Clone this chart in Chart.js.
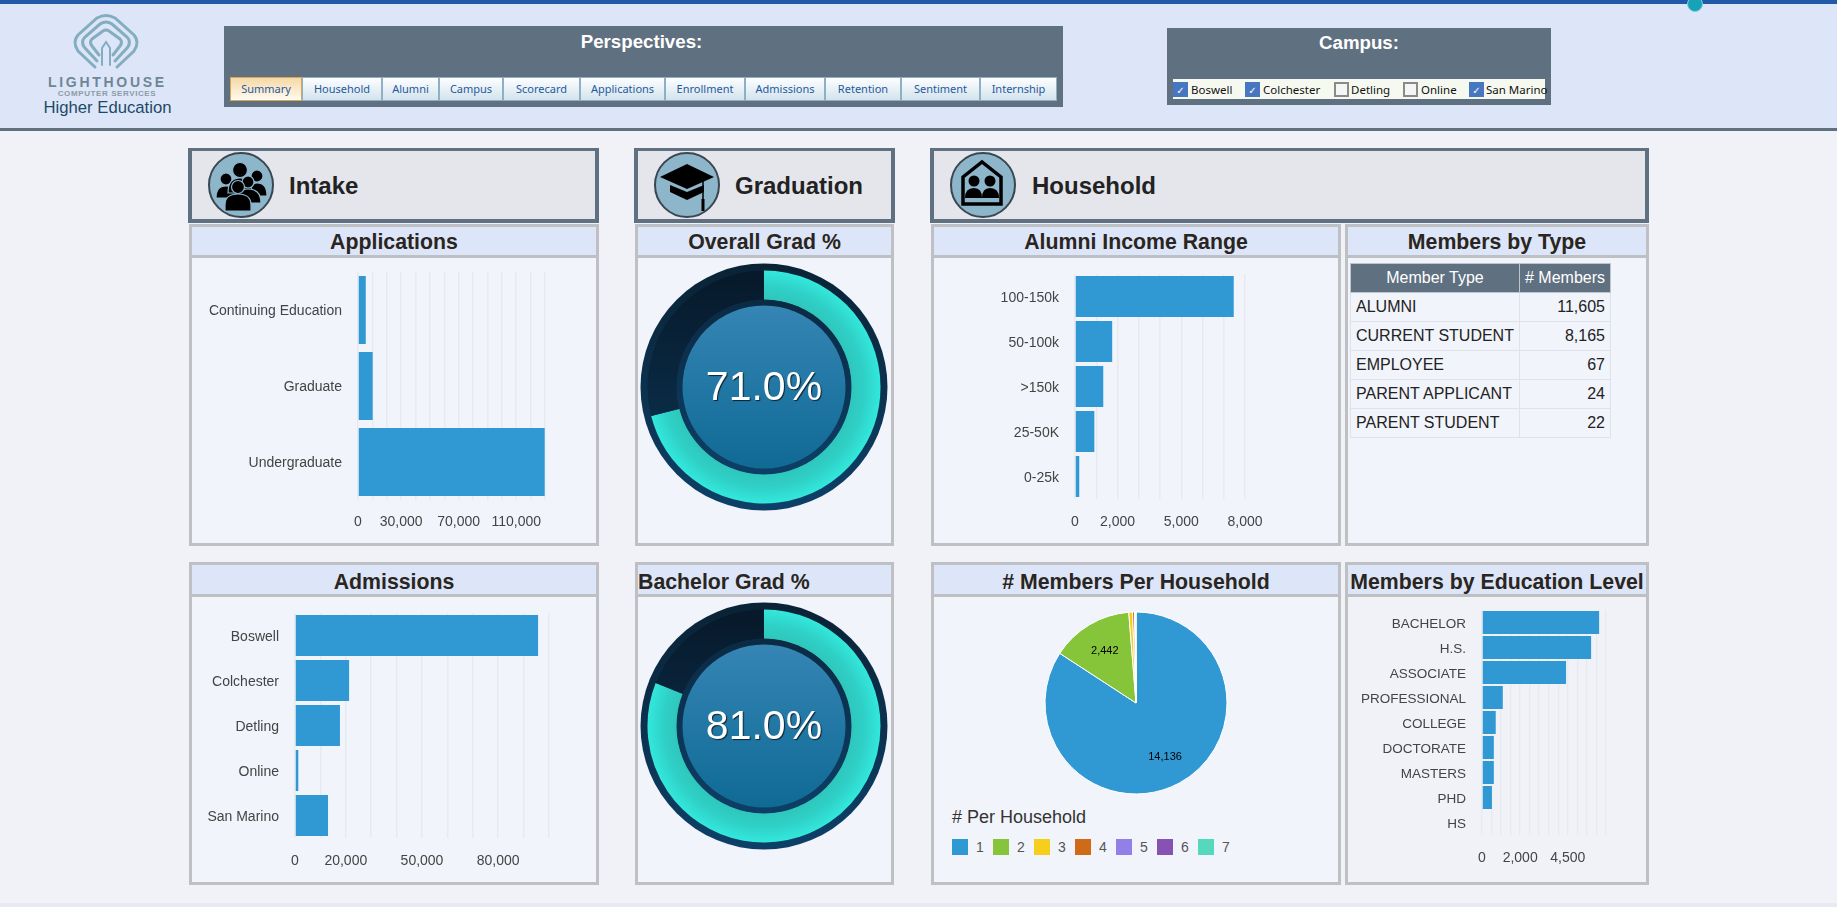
<!DOCTYPE html>
<html>
<head>
<meta charset="utf-8">
<title>Higher Education Summary</title>
<script src="https://cdn.jsdelivr.net/npm/chart.js"></script>
<style>
html, body { margin: 0; padding: 0; width: 1837px; height: 907px; overflow: hidden; background: #f0f2f8; font-family: "Liberation Sans", Arial, sans-serif; }
.abs, .panel, .title, .section, canvas { position: absolute; box-sizing: border-box; }
#topbar { left: 0; top: 0; width: 1837px; height: 4px; background: #2059a8; }
#head { left: 0; top: 4px; width: 1837px; height: 127px; background: #dde6f8; border-bottom: 3px solid #5f7080; }
#foot { left: 0; top: 903px; width: 1837px; height: 4px; background: #e7eaf0; }
#dot { left: 1687px; top: -4px; width: 16px; height: 16px; border-radius: 50%; background: #17a2b8; border: 1px solid #7fd0dc; }
.greybox { background: #5f7080; color: #fff; font-weight: bold; font-size: 18.7px; text-align: center; }
.tab { top: 77px; height: 24px; box-sizing: border-box; font: 11px/22px "Noto Sans", sans-serif; color: #1f5a9e; text-align: center; background: linear-gradient(#fdfeff, #d3e3ec); border: 1px solid #8fb0c4; }
.tab.on { background: linear-gradient(#f6d9a5, #fffaf0); border-color: #d5a858; }
.box { top: 82px; width: 15px; height: 15px; box-sizing: border-box; background: #f5f5f5; border: 2px solid #8a8a8a; color: #fff; font: 10px/13px "DejaVu Sans", sans-serif; text-align: center; }
.box.on { background: #4677c0; border-color: #4677c0; }
.lbl { top: 81px; font: 11.5px/18px "Noto Sans", sans-serif; color: #111; white-space: nowrap; }
.section { top: 148px; height: 75px; background: #e4e6ec; border: 4px solid #5f7080; border-top-width: 3px; border-bottom-width: 4px; }
.sectitle { top: 172px; font-weight: bold; font-size: 24px; line-height: 28px; color: #222; }
.panel { background: #f1f4fb; border: 3px solid #bfc0c4; }
.title { left: 0; right: 0; top: 0; height: 31px; line-height: 31px; background: #dde6f8; border-bottom: 3px solid #bfc0c4; font-weight: bold; font-size: 21.3px; color: #2a2520; text-align: center; white-space: nowrap; }
.title.low { height: 32px; line-height: 34px; }
table { border-collapse: collapse; table-layout: fixed; font-size: 16px; color: #222; }
th { background: #5f7080; color: #fff; font-weight: normal; height: 29px; padding: 0 5px; border: 1px solid #c0c4cc; box-sizing: border-box; white-space: nowrap; }
td { height: 29px; padding: 0 5px; border: 1px solid #dfe2e8; box-sizing: border-box; white-space: nowrap; }
.leg { font-size: 14px; color: #555; line-height: 16px; }
</style>
</head>
<body>
<div class="abs" id="topbar"></div>
<div class="abs" id="head"></div>
<div class="abs" id="dot"></div>
<div class="abs" id="foot"></div>

<svg class="abs" style="left:0;top:1px" width="200" height="80" fill="none" stroke="#84adbf" stroke-width="3" stroke-linecap="round">
  <path d="M95,66 L78,50 Q72,41 78,34 L97,17 Q106,12 115,17 L134,34 Q140,41 134,50 L117,66"/>
  <path d="M97,60 L85,47 Q80,41 85,36 L100,23 Q106,19 112,23 L127,36 Q132,41 127,47 L115,60"/>
  <path d="M99,54 L92,45 Q89,41 92,38 L103,30 Q106,28 109,30 L120,38 Q123,41 120,45 L113,54"/>
  <path d="M102,64 L102,47 L106,41 L110,47 L110,64" stroke-width="2"/>
</svg>
<div class="abs" style="left:48px;top:74px;width:118px;text-align:center;font-size:14px;line-height:16px;font-weight:bold;letter-spacing:2.7px;color:#6f8794;white-space:nowrap">LIGHTHOUSE</div>
<div class="abs" style="left:50px;top:89px;width:114px;text-align:center;font-size:8px;line-height:10px;font-weight:bold;letter-spacing:0.6px;color:#8a9ca6;white-space:nowrap">COMPUTER SERVICES</div>
<div class="abs" style="left:30px;top:98px;width:155px;text-align:center;font-size:16.7px;line-height:20px;color:#1c4a68;white-space:nowrap">Higher Education</div>

<div class="abs greybox" style="left:224px;top:26px;width:839px;height:81px;line-height:31px;padding-right:4px">Perspectives:</div>
<div id="tabs"></div>
<div class="abs greybox" style="left:1167px;top:28px;width:384px;height:77px;line-height:30px">Campus:</div>
<div class="abs" style="left:1173px;top:79px;width:372px;height:20px;background:#f6f9f0"></div>
<div id="campus"></div>

<div class="section" style="left:188px;width:411px"></div>
<div class="section" style="left:634px;width:261px"></div>
<div class="section" style="left:930px;width:719px"></div>

<svg class="abs" style="left:207px;top:151px" width="68" height="68" viewBox="0 0 68 68">
  <circle cx="34" cy="34" r="32" fill="#8db6cb" stroke="#3a4650" stroke-width="2"/>
  <g fill="#000" stroke="#8db6cb" stroke-width="1.2">
    <circle cx="19" cy="28" r="6"/><path d="M9,47 Q9,35 19,35 Q29,35 29,47 Z"/>
    <circle cx="50" cy="25" r="6"/><path d="M41,45 Q41,32 50,32 Q60,32 60,45 Z"/>
    <circle cx="33" cy="19" r="7.5"/><path d="M21,42 Q21,27 33,27 Q45,27 45,42 Z"/>
    <circle cx="41" cy="31" r="6"/><path d="M30,52 Q30,38 41,38 Q54,38 54,52 Z"/>
    <circle cx="31" cy="36" r="6.5"/><path d="M18,60 L18,54 Q18,43 31,43 Q44,43 44,54 L44,60 Z"/>
  </g>
</svg>
<svg class="abs" style="left:653px;top:151px" width="68" height="68" viewBox="0 0 68 68">
  <circle cx="34" cy="34" r="32" fill="#8db6cb" stroke="#3a4650" stroke-width="2"/>
  <path d="M7,26 L34,13 L61,26 L34,38 Z" fill="#000"/>
  <path d="M17,34 L34,41 L51,34 L51,41 L34,49 L17,41 Z" fill="#000"/>
  <path d="M50,29 L50,50" stroke="#000" stroke-width="1.5"/>
  <rect x="48.5" y="48" width="3" height="12" fill="#000"/>
</svg>
<svg class="abs" style="left:949px;top:151px" width="68" height="68" viewBox="0 0 68 68">
  <circle cx="34" cy="34" r="32" fill="#8db6cb" stroke="#3a4650" stroke-width="2"/>
  <path d="M14,53 L14,26 L33,11 L52,26 L52,53 Z" fill="none" stroke="#000" stroke-width="3.5"/>
  <g fill="#000">
    <circle cx="25" cy="30" r="5.5"/><path d="M16,47 Q16,37 25,37 Q33,37 33,47 Z"/>
    <circle cx="41" cy="30" r="5.5"/><path d="M33,47 Q33,37 41,37 Q50,37 50,47 Z"/>
  </g>
</svg>
<div class="abs sectitle" style="left:289px">Intake</div>
<div class="abs sectitle" style="left:735px">Graduation</div>
<div class="abs sectitle" style="left:1032px">Household</div>

<div class="panel" style="left:189px;top:224px;width:410px;height:322px"><div class="title">Applications</div></div>
<div class="panel" style="left:635px;top:224px;width:259px;height:322px"><div class="title">Overall Grad %</div></div>
<div class="panel" style="left:931px;top:224px;width:410px;height:322px"><div class="title">Alumni Income Range</div></div>
<div class="panel" style="left:1345px;top:224px;width:304px;height:322px"><div class="title">Members by Type</div></div>
<div class="panel" style="left:189px;top:562px;width:410px;height:323px"><div class="title low">Admissions</div></div>
<div class="panel" style="left:635px;top:562px;width:259px;height:323px"><div class="title low" style="text-align:left;padding-left:0">Bachelor Grad %</div></div>
<div class="panel" style="left:931px;top:562px;width:410px;height:323px"><div class="title low"># Members Per Household</div></div>
<div class="panel" style="left:1345px;top:562px;width:304px;height:323px;background:#f0f2f8"><div class="title low">Members by Education Level</div></div>

<canvas id="appChart" style="left:192px;top:258px" width="404" height="285"></canvas>
<canvas id="admChart" style="left:192px;top:597px" width="404" height="285"></canvas>
<canvas id="incChart" style="left:934px;top:258px" width="404" height="285"></canvas>
<canvas id="eduChart" style="left:1348px;top:597px" width="298" height="285"></canvas>
<canvas id="overallGauge" style="left:634px;top:257px" width="260" height="260"></canvas>
<canvas id="bachelorGauge" style="left:634px;top:596px" width="260" height="260"></canvas>
<canvas id="hhPie" style="left:1036px;top:603px" width="200" height="200"></canvas>

<table class="abs" id="memberTable" style="left:1350px;top:263px;width:261px"></table>
<div class="abs" style="left:952px;top:806px;font-size:18px;line-height:22px;color:#333">
# Per Household</div>
<div id="hhLegend"></div>

<script>
(function() {
'use strict';

const perspectives = ['Summary', 'Household', 'Alumni', 'Campus', 'Scorecard', 'Applications', 'Enrollment', 'Admissions', 'Retention', 'Sentiment', 'Internship'];
const campuses = ['Boswell', 'Colchester', 'Detling', 'Online', 'San Marino'];
const campusOn = [true, true, false, false, true];

const appCats = ['Continuing Education', 'Graduate', 'Undergraduate'];
const appVals = [5400, 10200, 129800];
const appTicks = [0, 30000, 70000, 110000];

const admCats = ['Boswell', 'Colchester', 'Detling', 'Online', 'San Marino'];
const admVals = [95700, 21300, 17700, 1300, 13000];
const admTicks = [0, 20000, 50000, 80000];

const incCats = ['100-150k', '50-100k', '>150k', '25-50K', '0-25k'];
const incVals = [7470, 1750, 1330, 910, 200];
const incTicks = [0, 2000, 5000, 8000];

const eduCats = ['BACHELOR', 'H.S.', 'ASSOCIATE', 'PROFESSIONAL', 'COLLEGE', 'DOCTORATE', 'MASTERS', 'PHD', 'HS'];
const eduVals = [6140, 5720, 4405, 1090, 720, 620, 620, 520, 0];
const eduTicks = [0, 2000, 4500];

const hhCats = ['1', '2', '3', '4', '5', '6', '7'];
const hhVals = [14136, 2442, 110, 60, 25, 12, 6];
const hhColors = ['#3099d4', '#86c439', '#f5cf1c', '#cf6a17', '#9280e8', '#8653b5', '#55d8bd'];

const overallGrad = 71.0;
const bachelorGrad = 81.0;

const memberTypes = ['ALUMNI', 'CURRENT STUDENT', 'EMPLOYEE', 'PARENT APPLICANT', 'PARENT STUDENT'];
const memberCounts = [11605, 8165, 67, 24, 22];

const BAR = '#3099d4';
const GRID = '#e7ebf0';
const FONT = '"Liberation Sans", Arial, sans-serif';

Chart.defaults.font.family = FONT;
Chart.defaults.font.size = 14;
Chart.defaults.color = '#444';
Chart.defaults.animation = false;
Chart.defaults.responsive = false;

function add(parent, cls, css, txt) {
  const d = document.createElement('div');
  d.className = cls;
  d.style.cssText = css;
  if (txt) d.textContent = txt;
  parent.appendChild(d);
  return d;
}

// top strip: tabs and campus filter
const tabEdges = [230, 302, 382, 439, 503, 580, 665, 745, 825, 901, 980, 1057];
const tabs = document.getElementById('tabs');
perspectives.forEach((p, i) => {
  add(tabs, 'abs tab' + (i === 0 ? ' on' : ''),
      'left:' + tabEdges[i] + 'px;width:' + (tabEdges[i + 1] - tabEdges[i]) + 'px', p);
});

const boxX = [1173, 1245, 1334, 1403, 1469];
const labX = [1191, 1263, 1351, 1421, 1486];
const camp = document.getElementById('campus');
campuses.forEach((c, i) => {
  add(camp, 'abs box' + (campusOn[i] ? ' on' : ''), 'left:' + boxX[i] + 'px', campusOn[i] ? '\u2713' : '');
  add(camp, 'abs lbl', 'left:' + labX[i] + 'px', c);
});

// members table
const tb = document.getElementById('memberTable');
let rows = '<tr><th style="width:169px">Member Type</th><th># Members</th></tr>';
memberTypes.forEach((t, i) => {
  rows += '<tr><td>' + t + '</td><td style="text-align:right">' + memberCounts[i].toLocaleString('en-US') + '</td></tr>';
});
tb.innerHTML = rows;

// horizontal bars, plot area pinned inside the canvas
function hbar(id, cats, vals, ticks, step, max, thick, box) {
  const canvas = document.getElementById(id);
  return new Chart(canvas.getContext('2d'), {
    type: 'bar',
    data: {
      labels: cats,
      datasets: [{data: vals, backgroundColor: BAR, barPercentage: thick, categoryPercentage: 1}]
    },
    options: {
      indexAxis: 'y',
      layout: {padding: {left: 0, top: box.top, right: canvas.width - box.right, bottom: 0}},
      plugins: {legend: {display: false}, tooltip: {enabled: false}},
      scales: {
        x: {
          min: 0,
          max: max,
          grid: {color: GRID, drawTicks: false, lineWidth: 1.5},
          border: {display: false},
          afterFit: s => {
            s.height = canvas.height - box.bottom;
            s.paddingLeft = 0;
            s.paddingRight = 0;
          },
          ticks: {
            stepSize: step,
            autoSkip: false,
            maxRotation: 0,
            padding: box.tickPad,
            callback: v => ticks.includes(v) ? v.toLocaleString('en-US') : ''
          }
        },
        y: {
          grid: {display: false},
          border: {display: false},
          afterFit: s => {
            s.width = box.left;
            s.paddingTop = 0;
            s.paddingBottom = 0;
          },
          ticks: {padding: 8, autoSkip: false, labelOffset: 1.5, font: {size: box.catSize || 14}}
        }
      }
    }
  });
}

hbar('appChart', appCats, appVals, appTicks, 10000, 130000, 0.895, {left: 166, right: 353, top: 14, bottom: 242, tickPad: 14});
hbar('admChart', admCats, admVals, admTicks, 10000, 100000, 0.911, {left: 103, right: 357, top: 16, bottom: 241, tickPad: 15});
hbar('incChart', incCats, incVals, incTicks, 1000, 8000, 0.911, {left: 141, right: 311, top: 16, bottom: 241, tickPad: 15});
hbar('eduChart', eduCats, eduVals, eduTicks, 500, 6500, 0.92, {left: 134, right: 258, top: 13, bottom: 238, tickPad: 15, catSize: 13.5});

// gauges
const ringPlugin = {
  id: 'ring',
  beforeDatasetsDraw(chart) {
    const c = chart.ctx, a = chart.chartArea;
    const cx = (a.left + a.right) / 2, cy = (a.top + a.bottom) / 2;
    const g = c.createLinearGradient(0, cy - 123, 0, cy + 123);
    g.addColorStop(0, '#0a2235');
    g.addColorStop(1, '#0d4068');
    c.save();
    c.fillStyle = g;
    c.beginPath();
    c.arc(cx, cy, 123.5, 0, Math.PI * 2);
    c.fill();
    c.restore();
  },
  afterDatasetsDraw(chart) {
    const c = chart.ctx, a = chart.chartArea;
    const cx = (a.left + a.right) / 2, cy = (a.top + a.bottom) / 2;
    c.save();
    const rg = c.createLinearGradient(0, cy - 87, 0, cy + 87);
    rg.addColorStop(0, '#0b2a44');
    rg.addColorStop(1, '#0d3f66');
    c.fillStyle = rg;
    c.beginPath();
    c.arc(cx, cy, 87.5, 0, Math.PI * 2);
    c.fill();
    const dg = c.createLinearGradient(0, cy - 82, 0, cy + 82);
    dg.addColorStop(0, '#3585b5');
    dg.addColorStop(1, '#0f6a94');
    c.fillStyle = dg;
    c.beginPath();
    c.arc(cx, cy, 81.5, 0, Math.PI * 2);
    c.fill();
    c.font = '41px ' + FONT;
    c.textAlign = 'center';
    c.textBaseline = 'middle';
    c.shadowColor = 'rgba(0,0,0,0.7)';
    c.shadowOffsetX = 1;
    c.shadowOffsetY = 1;
    c.shadowBlur = 1;
    c.fillStyle = '#fff';
    c.fillText(chart.data.datasets[0].data[0].toFixed(1) + '%', cx, cy + 2);
    c.restore();
  }
};

function gauge(id, pct) {
  new Chart(document.getElementById(id).getContext('2d'), {
    type: 'doughnut',
    data: {
      labels: ['Grad', 'Other'],
      datasets: [{
        data: [pct, 100 - pct],
        borderWidth: 0,
        backgroundColor: function(ctx) {
          const a = ctx.chart.chartArea;
          if (!a) return '#33e6da';
          const cx = (a.left + a.right) / 2, cy = (a.top + a.bottom) / 2;
          if (ctx.dataIndex === 0) {
            const g = ctx.chart.ctx.createRadialGradient(cx, cy, 87, cx, cy, 116.5);
            g.addColorStop(0, '#2fc6bc');
            g.addColorStop(0.45, '#2fd0c6');
            g.addColorStop(1, '#33e8dc');
            return g;
          }
          const d = ctx.chart.ctx.createLinearGradient(0, cy - 116, 0, cy + 60);
          d.addColorStop(0, '#07192a');
          d.addColorStop(1, '#0b2f4c');
          return d;
        }
      }]
    },
    options: {
      radius: 116.5,
      cutout: '74.7%',
      plugins: {legend: {display: false}, tooltip: {enabled: false}}
    },
    plugins: [ringPlugin]
  });
}
gauge('overallGauge', overallGrad);
gauge('bachelorGauge', bachelorGrad);

// pie with value labels on the two large slices only
const sliceLabels = {
  id: 'sliceLabels',
  afterDatasetsDraw(chart) {
    const c = chart.ctx, meta = chart.getDatasetMeta(0), vals = chart.data.datasets[0].data;
    const total = vals.reduce((s, v) => s + v, 0);
    c.save();
    c.font = '11px ' + FONT;
    c.fillStyle = '#000';
    c.textAlign = 'center';
    c.textBaseline = 'middle';
    meta.data.forEach((arc, i) => {
      if (vals[i] / total < 0.05) return;
      const mid = (arc.startAngle + arc.endAngle) / 2, r = arc.outerRadius * 0.67;
      c.fillText(vals[i].toLocaleString('en-US'), arc.x + r * Math.cos(mid), arc.y + r * Math.sin(mid));
    });
    c.restore();
  }
};

new Chart(document.getElementById('hhPie').getContext('2d'), {
  type: 'pie',
  data: {
    labels: hhCats,
    datasets: [{data: hhVals, backgroundColor: hhColors, borderColor: '#fff', borderWidth: 1}]
  },
  options: {
    radius: 91,
    plugins: {legend: {display: false}, tooltip: {enabled: false}}
  },
  plugins: [sliceLabels]
});

const legendBox = document.getElementById('hhLegend');
hhCats.forEach((cat, i) => {
  const x = 952 + i * 41;
  add(legendBox, 'abs', 'left:' + x + 'px;top:839px;width:16px;height:16px;background:' + hhColors[i]);
  add(legendBox, 'abs leg', 'left:' + (x + 24) + 'px;top:839px', cat);
});
})();
</script>
</body>
</html>
